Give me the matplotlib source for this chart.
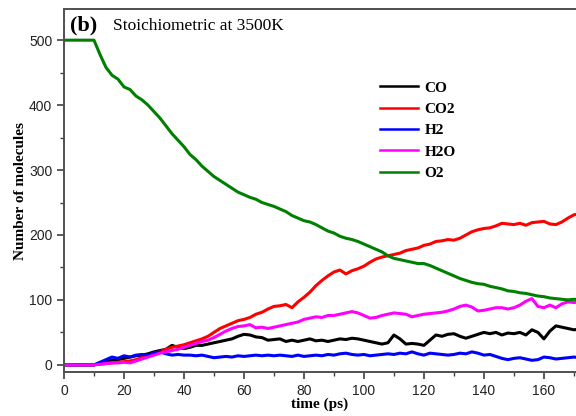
import matplotlib
matplotlib.use("Agg")
import matplotlib.pyplot as plt
from matplotlib.ticker import MultipleLocator

time_ps = list(range(0, 174, 2))

o2 = [500, 500, 500, 500, 500, 500, 478, 458, 446, 440, 428, 424, 414, 408, 400, 390,
      380, 368, 356, 346, 336, 324, 316, 306, 298, 290, 284, 278, 272, 266, 262, 258,
      255, 250, 247, 244, 240, 236, 230, 226, 222, 220, 216, 211, 206, 203, 198, 195,
      193, 190, 186, 182, 178, 174, 168, 164, 162, 160, 158, 156, 156, 153, 149, 145,
      141, 137, 133, 130, 127, 125, 124, 121, 119, 117, 114, 113, 111, 110, 108, 106,
      105, 103, 102, 101, 100, 101, 100]

co2 = [0, 0, 0, 0, 0, 0, 1, 2, 3, 4, 5, 6, 8, 11, 14, 18,
       20, 24, 27, 29, 31, 34, 37, 40, 44, 50, 56, 60, 64, 68, 70, 73,
       78, 81, 86, 90, 91, 93, 88, 97, 104, 112, 122, 130, 137, 143, 146, 140,
       145, 148, 152, 158, 163, 166, 168, 170, 172, 176, 178, 180, 184, 186, 190, 191,
       193, 192, 195, 200, 205, 208, 210, 211, 214, 218, 217, 216, 218, 215, 219, 220,
       221, 217, 216, 220, 226, 231, 233]

h2o = [0, 0, 0, 0, 0, 0, 1, 2, 3, 3, 4, 3, 6, 9, 12, 15,
       18, 20, 22, 24, 27, 30, 33, 36, 38, 42, 47, 52, 56, 59, 60, 62,
       57, 58, 56, 58, 60, 62, 64, 66, 70, 72, 74, 73, 76, 76, 78, 80,
       82, 80, 76, 72, 73, 76, 78, 80, 79, 78, 74, 76, 78, 79, 80, 81,
       83, 86, 90, 92, 89, 83, 84, 86, 88, 88, 86, 88, 92, 98, 102, 90,
       88, 92, 88, 94, 97, 96, 97]

co = [0, 0, 0, 0, 0, 0, 2, 5, 7, 8, 10, 12, 14, 15, 17, 20,
      22, 24, 30, 27, 25, 27, 30, 30, 32, 34, 36, 38, 40, 44, 47, 46,
      43, 42, 38, 39, 40, 36, 38, 36, 38, 40, 37, 38, 36, 38, 40, 39,
      41, 40, 38, 36, 34, 32, 34, 46, 40, 32, 33, 32, 30, 38, 46, 44,
      47, 48, 44, 41, 44, 47, 50, 48, 50, 46, 49, 48, 50, 46, 54, 50,
      40, 52, 60, 58, 56, 54, 55]

h2 = [0, 0, 0, 0, 0, 0, 4, 8, 12, 10, 14, 12, 15, 16, 15, 18,
      20, 17, 15, 16, 15, 15, 14, 15, 13, 11, 12, 13, 12, 14, 13, 14,
      15, 14, 15, 14, 15, 14, 13, 15, 13, 14, 15, 14, 16, 15, 17, 18,
      16, 15, 16, 14, 15, 16, 17, 16, 18, 17, 20, 17, 15, 18, 17, 16,
      15, 16, 18, 17, 20, 18, 15, 16, 13, 10, 8, 10, 11, 9, 7, 8,
      12, 11, 9, 10, 11, 12, 11]

series_names = ["CO", "CO2", "H2", "H2O", "O2"]
series_values = [co, co2, h2, h2o, o2]
series_colors = ["#000000", "#ff0000", "#0000ff", "#ff00ff", "#008000"]

plt.rcParams["font.family"] = ["Liberation Sans", "DejaVu Sans"]

fig = plt.figure(figsize=(5.76, 4.16), dpi=100)
ax = fig.add_axes([64 / 576, 1 - 372 / 416, 512 / 576, (372 - 9) / 416])

for name, vals, col in zip(series_names, series_values, series_colors):
    ax.plot(time_ps, vals, color=col, lw=2.2, label=name)

ax.set_xlim(0, 170.7)
ax.set_ylim(-11, 548)
ax.xaxis.set_major_locator(MultipleLocator(20))
ax.xaxis.set_minor_locator(MultipleLocator(10))
ax.yaxis.set_major_locator(MultipleLocator(100))
ax.yaxis.set_minor_locator(MultipleLocator(50))
ax.tick_params(which="major", direction="out", length=5, width=1.2, color="#404040",
               labelsize=10, labelcolor="#222222")
ax.tick_params(which="minor", direction="out", length=3, width=1.0, color="#404040")
for side in ["left", "bottom", "top"]:
    ax.spines[side].set_color("#505050")
    ax.spines[side].set_linewidth(1.4)
ax.spines["right"].set_visible(False)

serif = ["Liberation Serif", "DejaVu Serif"]
ax.set_xlabel("time (ps)", fontfamily=serif, fontweight="bold", fontsize=11, labelpad=0)
ax.set_ylabel("Number of molecules", fontfamily=serif, fontweight="bold", fontsize=11, labelpad=1)

ax.text(0.012, 0.955, "(b)", transform=ax.transAxes, fontfamily=serif, fontweight="bold",
        fontsize=16, va="center", ha="left")
ax.text(0.095, 0.952, "Stoichiometric at 3500K", transform=ax.transAxes, fontfamily=serif,
        fontsize=12.5, va="center", ha="left")

leg = ax.legend(loc="upper left", bbox_to_anchor=(310 / 512, (372 - 75) / 363), frameon=False,
                prop={"family": serif, "weight": "bold", "size": 11},
                handlelength=2.5, handletextpad=0.4, labelspacing=0.5, borderaxespad=0)
for line in leg.get_lines():
    line.set_linewidth(1.8)

fig.savefig("out.png", dpi=100)
